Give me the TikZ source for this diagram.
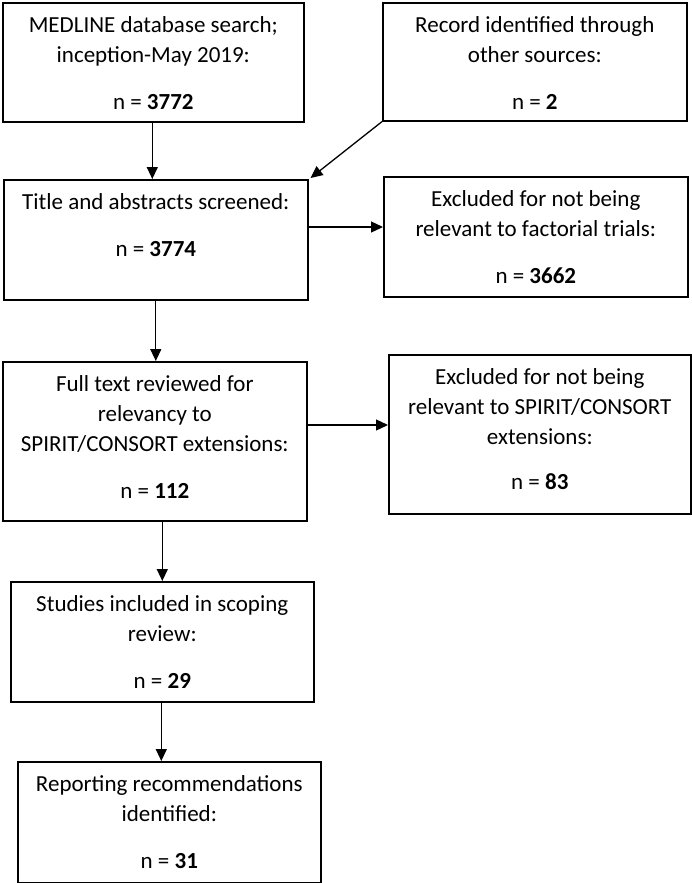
\documentclass[tikz,border=0pt]{standalone}
\usepackage{fontspec}
\setmainfont{Carlito}
\usetikzlibrary{arrows.meta,calc}
\newcommand{\boxtext}[3]{\parbox[t][#2][t]{#1}{\centering\vspace*{9pt}\strut #3\par}}
\tikzset{
  flowbox/.style={draw, line width=1.6pt, inner sep=0pt, anchor=north west,
    font=\fontsize{23}{30}\selectfont},
  arr/.style={line width=1.3pt, -{Triangle[length=12pt,width=11pt]}}
}
\begin{document}
\begin{tikzpicture}[x=1pt,y=1pt]
\useasboundingbox (0,0) rectangle (692,-883);
\node[flowbox] (b1) at (2,-2) {\boxtext{301pt}{119pt}{MEDLINE database search;\\ inception-May 2019:\\[17pt] n = \textbf{3772}}};
\node[flowbox] (b2) at (382,-2) {\boxtext{304pt}{118pt}{Record identified through\\ other sources:\\[17pt] n = \textbf{2}}};
\node[flowbox] (b3) at (3,-179) {\boxtext{304pt}{120pt}{Title and abstracts screened:\\[17pt] n = \textbf{3774}}};
\node[flowbox] (b4) at (383,-176) {\boxtext{304pt}{120pt}{Excluded for not being\\ relevant to factorial trials:\\[17pt] n = \textbf{3662}}};
\node[flowbox] (b5) at (2,-361) {\boxtext{304pt}{159pt}{Full text reviewed for\\ relevancy to\\ SPIRIT/CONSORT extensions:\\[17pt] n = \textbf{112}}};
\node[flowbox] (b6) at (388,-354) {\boxtext{302pt}{159pt}{Excluded for not being\\ relevant to SPIRIT/CONSORT\\ extensions:\\[15pt] n = \textbf{83}}};
\node[flowbox] (b7) at (10,-581) {\boxtext{303pt}{120pt}{Studies included in scoping\\ review:\\[17pt] n = \textbf{29}}};
\node[flowbox] (b8) at (17,-761) {\boxtext{303pt}{121pt}{Reporting recommendations\\ identified:\\[17pt] n = \textbf{31}}};

\draw[arr] ([xshift=-1pt]b1.south) -- ([xshift=-1pt]b1.south |- b3.north);
\draw[arr] (b2.south west) -- ([xshift=2pt,yshift=1pt]b3.north east);
\draw[arr] ([yshift=-48pt]b3.north east) -- ([yshift=-48pt]b3.north east -| b4.west);
\draw[arr] (b3.south) -- (b3.south |- b5.north);
\draw[arr] ([yshift=-64pt]b5.north east) -- ([yshift=-64pt]b5.north east -| b6.west);
\draw[arr] (b7.north |- b5.south) -- (b7.north);
\draw[arr] ([xshift=-1pt]b7.south) -- ([xshift=-1pt]b7.south |- b8.north);
\end{tikzpicture}
\end{document}
